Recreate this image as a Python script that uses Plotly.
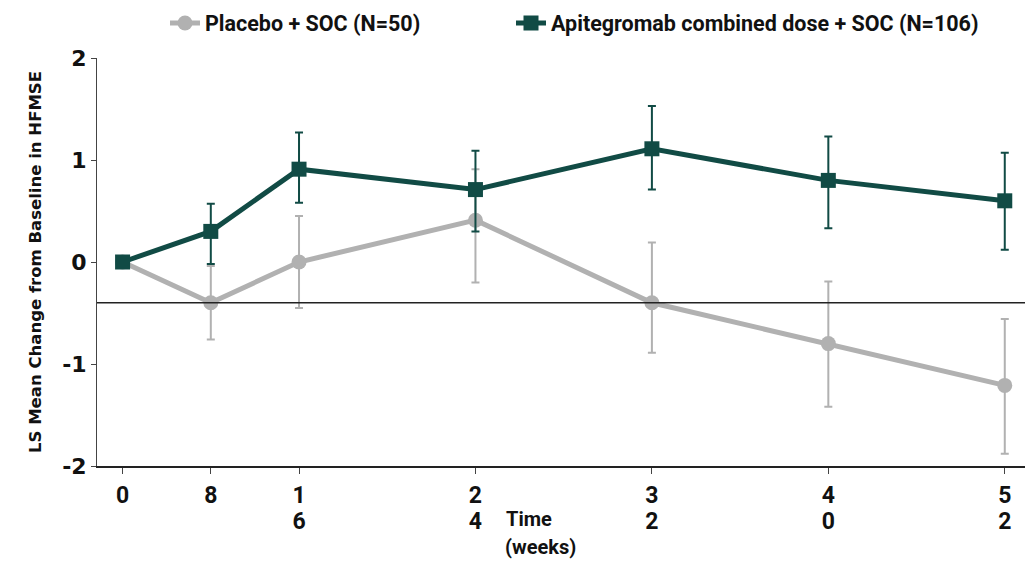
import plotly.graph_objects as go

# Data
weeks = [0, 8, 16, 24, 32, 40, 52]
x_pos = [0, 1, 2, 4, 6, 8, 10]  # visual slot of each visit on the x axis
tick_line1 = ["0", "8", "1", "2", "3", "4", "5"]
tick_line2 = ["", "", "6", "4", "2", "0", "2"]

placebo_mean = [0.0, -0.40, 0.0, 0.41, -0.40, -0.80, -1.21]
placebo_upper = [0.0, -0.04, 0.45, 0.91, 0.19, -0.19, -0.56]
placebo_lower = [0.0, -0.76, -0.45, -0.20, -0.89, -1.42, -1.88]

apit_mean = [0.0, 0.30, 0.91, 0.71, 1.11, 0.80, 0.60]
apit_upper = [0.0, 0.57, 1.27, 1.09, 1.53, 1.23, 1.07]
apit_lower = [0.0, -0.02, 0.58, 0.30, 0.71, 0.33, 0.12]

ref_line_y = -0.4

GREY = "#b1b1b1"
TEAL = "#114b45"
NARROW = "Roboto, 'Open Sans', sans-serif"
WIDE = "'DejaVu Sans', Verdana, sans-serif"

def plus(m, u):
    return [a - b for a, b in zip(u, m)]

def minus(m, l):
    return [b - a for a, b in zip(l, m)]

fig = go.Figure()
fig.add_trace(go.Scatter(
    x=x_pos, y=placebo_mean, mode="lines+markers",
    name="Placebo + SOC (N=50)", legend="legend",
    line=dict(color=GREY, width=5),
    marker=dict(symbol="circle", size=15, color=GREY),
    error_y=dict(type="data", symmetric=False,
                 array=plus(placebo_mean, placebo_upper),
                 arrayminus=minus(placebo_mean, placebo_lower),
                 color=GREY, thickness=2, width=4),
    customdata=weeks,
))
fig.add_trace(go.Scatter(
    x=x_pos, y=apit_mean, mode="lines+markers",
    name="Apitegromab combined dose + SOC (N=106)", legend="legend2",
    line=dict(color=TEAL, width=5),
    marker=dict(symbol="square", size=15, color=TEAL),
    error_y=dict(type="data", symmetric=False,
                 array=plus(apit_mean, apit_upper),
                 arrayminus=minus(apit_mean, apit_lower),
                 color=TEAL, thickness=2, width=4),
    customdata=weeks,
))
# invisible helper trace for the second line of tick labels
fig.add_trace(go.Scatter(
    x=x_pos, y=[0] * len(x_pos), xaxis="x2", mode="markers",
    marker=dict(opacity=0), showlegend=False, hoverinfo="skip",
))

fig.add_shape(type="line", xref="paper", x0=0, x1=1, yref="y",
              y0=ref_line_y, y1=ref_line_y, line=dict(color="#222222", width=1.5))

# page has an 8px body margin; figure is sized to fill the rest of the window
W, H = 1025, 553
legend_font = dict(size=21.5, family=NARROW, color="#111111", weight="bold")
xr = [-0.29, 10.32]
fig.update_layout(
    width=W, height=H,
    margin=dict(l=89, r=0, t=50, b=95),
    paper_bgcolor="white", plot_bgcolor="white",
    font=dict(family=NARROW, color="#111111"),
    showlegend=True,
    legend=dict(orientation="h", xref="container", yref="container",
                x=157 / W, xanchor="left", y=1 - 15 / H, yanchor="middle",
                font=legend_font, bgcolor="rgba(0,0,0,0)"),
    legend2=dict(orientation="h", xref="container", yref="container",
                 x=503 / W, xanchor="left", y=1 - 15 / H, yanchor="middle",
                 font=legend_font, bgcolor="rgba(0,0,0,0)"),
    xaxis=dict(range=xr, tickmode="array", tickvals=x_pos, ticktext=tick_line1,
               showgrid=False, zeroline=False, showline=True, linecolor="#222222",
               linewidth=1.5, ticks="outside", ticklen=6, tickcolor="#444444",
               tickfont=dict(size=23, family=NARROW, weight="bold"),
               ticklabelstandoff=2, automargin=False),
    xaxis2=dict(range=xr, overlaying="x", side="bottom", tickmode="array",
                tickvals=x_pos, ticktext=tick_line2, showgrid=False, zeroline=False,
                showline=False, ticks="",
                tickfont=dict(size=23, family=NARROW, weight="bold"),
                ticklabelstandoff=39, automargin=False),
    yaxis=dict(range=[-2, 2], tickvals=[-2, -1, 0, 1, 2], ticktext=["-2", "-1", "0", "1", "2"],
               showgrid=False, zeroline=False, showline=True, linecolor="#444444",
               linewidth=1, ticks="outside", ticklen=5, tickcolor="#444444",
               tickfont=dict(size=22, family=WIDE, weight="bold"), automargin=False,
               title=dict(text="LS Mean Change from Baseline in HFMSE",
                          font=dict(size=16.5, family=WIDE, weight="bold"), standoff=16)),
)
fig.add_annotation(text="Time", xref="paper", yref="paper",
                   x=(504 - 97) / 936, xanchor="left", y=-(519 - 466) / 408, yanchor="middle",
                   showarrow=False, font=dict(size=20, family=NARROW, weight="bold"))
fig.add_annotation(text="(weeks)", xref="paper", yref="paper",
                   x=(503 - 97) / 936, xanchor="left", y=-(547 - 466) / 408, yanchor="middle",
                   showarrow=False, font=dict(size=20, family=NARROW, weight="bold"))

fig.write_html("out.html")
